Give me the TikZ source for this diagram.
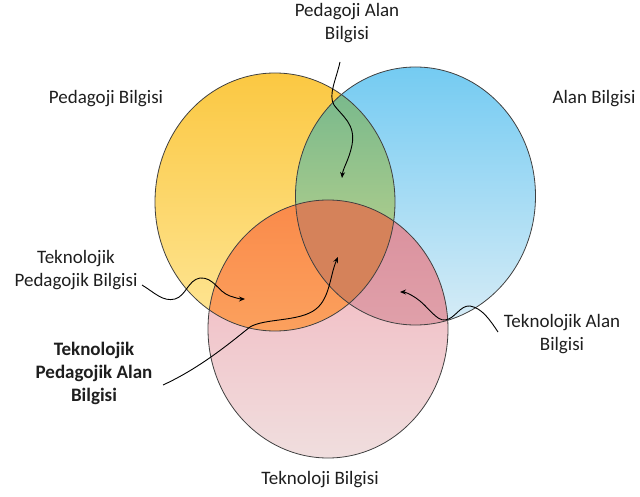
\documentclass[tikz,border=0pt]{standalone}
\usepackage{fontspec}
\setmainfont{Carlito}
\usetikzlibrary{arrows.meta}
\definecolor{yelT}{RGB}{251,200,66}
\definecolor{yelB}{RGB}{254,230,150}
\definecolor{bluT}{RGB}{116,203,242}
\definecolor{bluB}{RGB}{215,236,246}
\definecolor{pnkT}{RGB}{243,176,186}
\definecolor{pnkB}{RGB}{240,222,222}
\definecolor{grnT}{RGB}{112,182,140}
\definecolor{grnB}{RGB}{205,216,140}
\definecolor{orgT}{RGB}{250,138,74}
\definecolor{orgB}{RGB}{253,182,112}
\definecolor{mauT}{RGB}{218,143,156}
\definecolor{mauB}{RGB}{230,178,184}
\definecolor{triC}{RGB}{213,130,90}
\definecolor{txt}{RGB}{30,30,30}
\begin{document}
\begin{tikzpicture}[x=1pt,y=-1pt,
  lbl/.style={font=\fontsize{19}{23}\selectfont, align=center, inner sep=0pt, text=txt},
  outline/.style={draw=black!75, line width=0.8pt},
  conn/.style={draw=black, line width=0.9pt, -{Stealth[length=6pt,width=5pt]}},
  er/.style={x radius=120pt, y radius=129pt}]
\useasboundingbox (0,0) rectangle (640,497);
\coordinate (cy) at (275,202);
\coordinate (cb) at (415.5,196);
\coordinate (cp) at (328,329);
% base fills
\shade[top color=yelT, bottom color=yelB] (cy) ellipse [er];
\shade[top color=bluT, bottom color=bluB] (cb) ellipse [er];
\shade[top color=pnkT, bottom color=pnkB] (cp) ellipse [er];
% overlaps
\begin{scope}
  \clip (cy) ellipse [er];
  \shade[top color=grnT, bottom color=grnB] (cb) ellipse [er];
\end{scope}
\begin{scope}
  \clip (cy) ellipse [er];
  \shade[top color=orgT, bottom color=orgB] (cp) ellipse [er];
\end{scope}
\begin{scope}
  \clip (cb) ellipse [er];
  \shade[top color=mauT, bottom color=mauB] (cp) ellipse [er];
\end{scope}
\begin{scope}
  \clip (cy) ellipse [er];
  \clip (cb) ellipse [er];
  \fill[triC] (cp) ellipse [er];
\end{scope}
% outlines
\draw[outline] (cy) ellipse [er];
\draw[outline] (cb) ellipse [er];
\draw[outline] (cp) ellipse [er];
% labels
\node[lbl] (pab) at (347,23) {Pedagoji Alan\\Bilgisi};
\node[lbl] (pb) at (106,99) {Pedagoji Bilgisi};
\node[lbl] (ab) at (594,99) {Alan Bilgisi};
\node[lbl] (tpb) at (76,270) {Teknolojik\\Pedagojik Bilgisi};
\node[lbl, font=\fontsize{19}{23}\selectfont\bfseries] (tpab) at (94,373) {Teknolojik\\Pedagojik Alan\\Bilgisi};
\node[lbl] (tab) at (562,334) {Teknolojik Alan\\Bilgisi};
\node[lbl] (tb) at (320,480) {Teknoloji Bilgisi};
% connector ends
\coordinate (pabS) at (340,62);
\coordinate (pabE) at (342,178);
\coordinate (tpbS) at (142,285);
\coordinate (tpbE) at (245,299);
\coordinate (tpabS) at (163,385);
\coordinate (tpabE) at (338,257);
\coordinate (tabS) at (498,332);
\coordinate (tabE) at (400,292);
% connectors
\draw[conn] (pabS) .. controls (336,80) and (328,95) .. (334,105)
  .. controls (342,116) and (356,124) .. (352,145)
  .. controls (349,160) and (343,168) .. (pabE);
\draw[conn] (tpbS) .. controls (155,293) and (163,302) .. (175,299)
  .. controls (186,296) and (188,280) .. (200,278)
  .. controls (214,277) and (218,292) .. (230,296)
  .. controls (236,298) and (240,299) .. (tpbE);
\draw[conn] (tpabS) .. controls (200,368) and (230,343) .. (250,327)
  .. controls (265,318) and (300,322) .. (316,309)
  .. controls (330,298) and (330,275) .. (tpabE);
\draw[conn] (tabS) .. controls (490,320) and (482,308) .. (470,306)
  .. controls (460,305) and (455,319) .. (445,320)
  .. controls (436,321) and (428,306) .. (416,298)
  .. controls (410,294) and (405,292) .. (tabE);
\end{tikzpicture}
\end{document}
